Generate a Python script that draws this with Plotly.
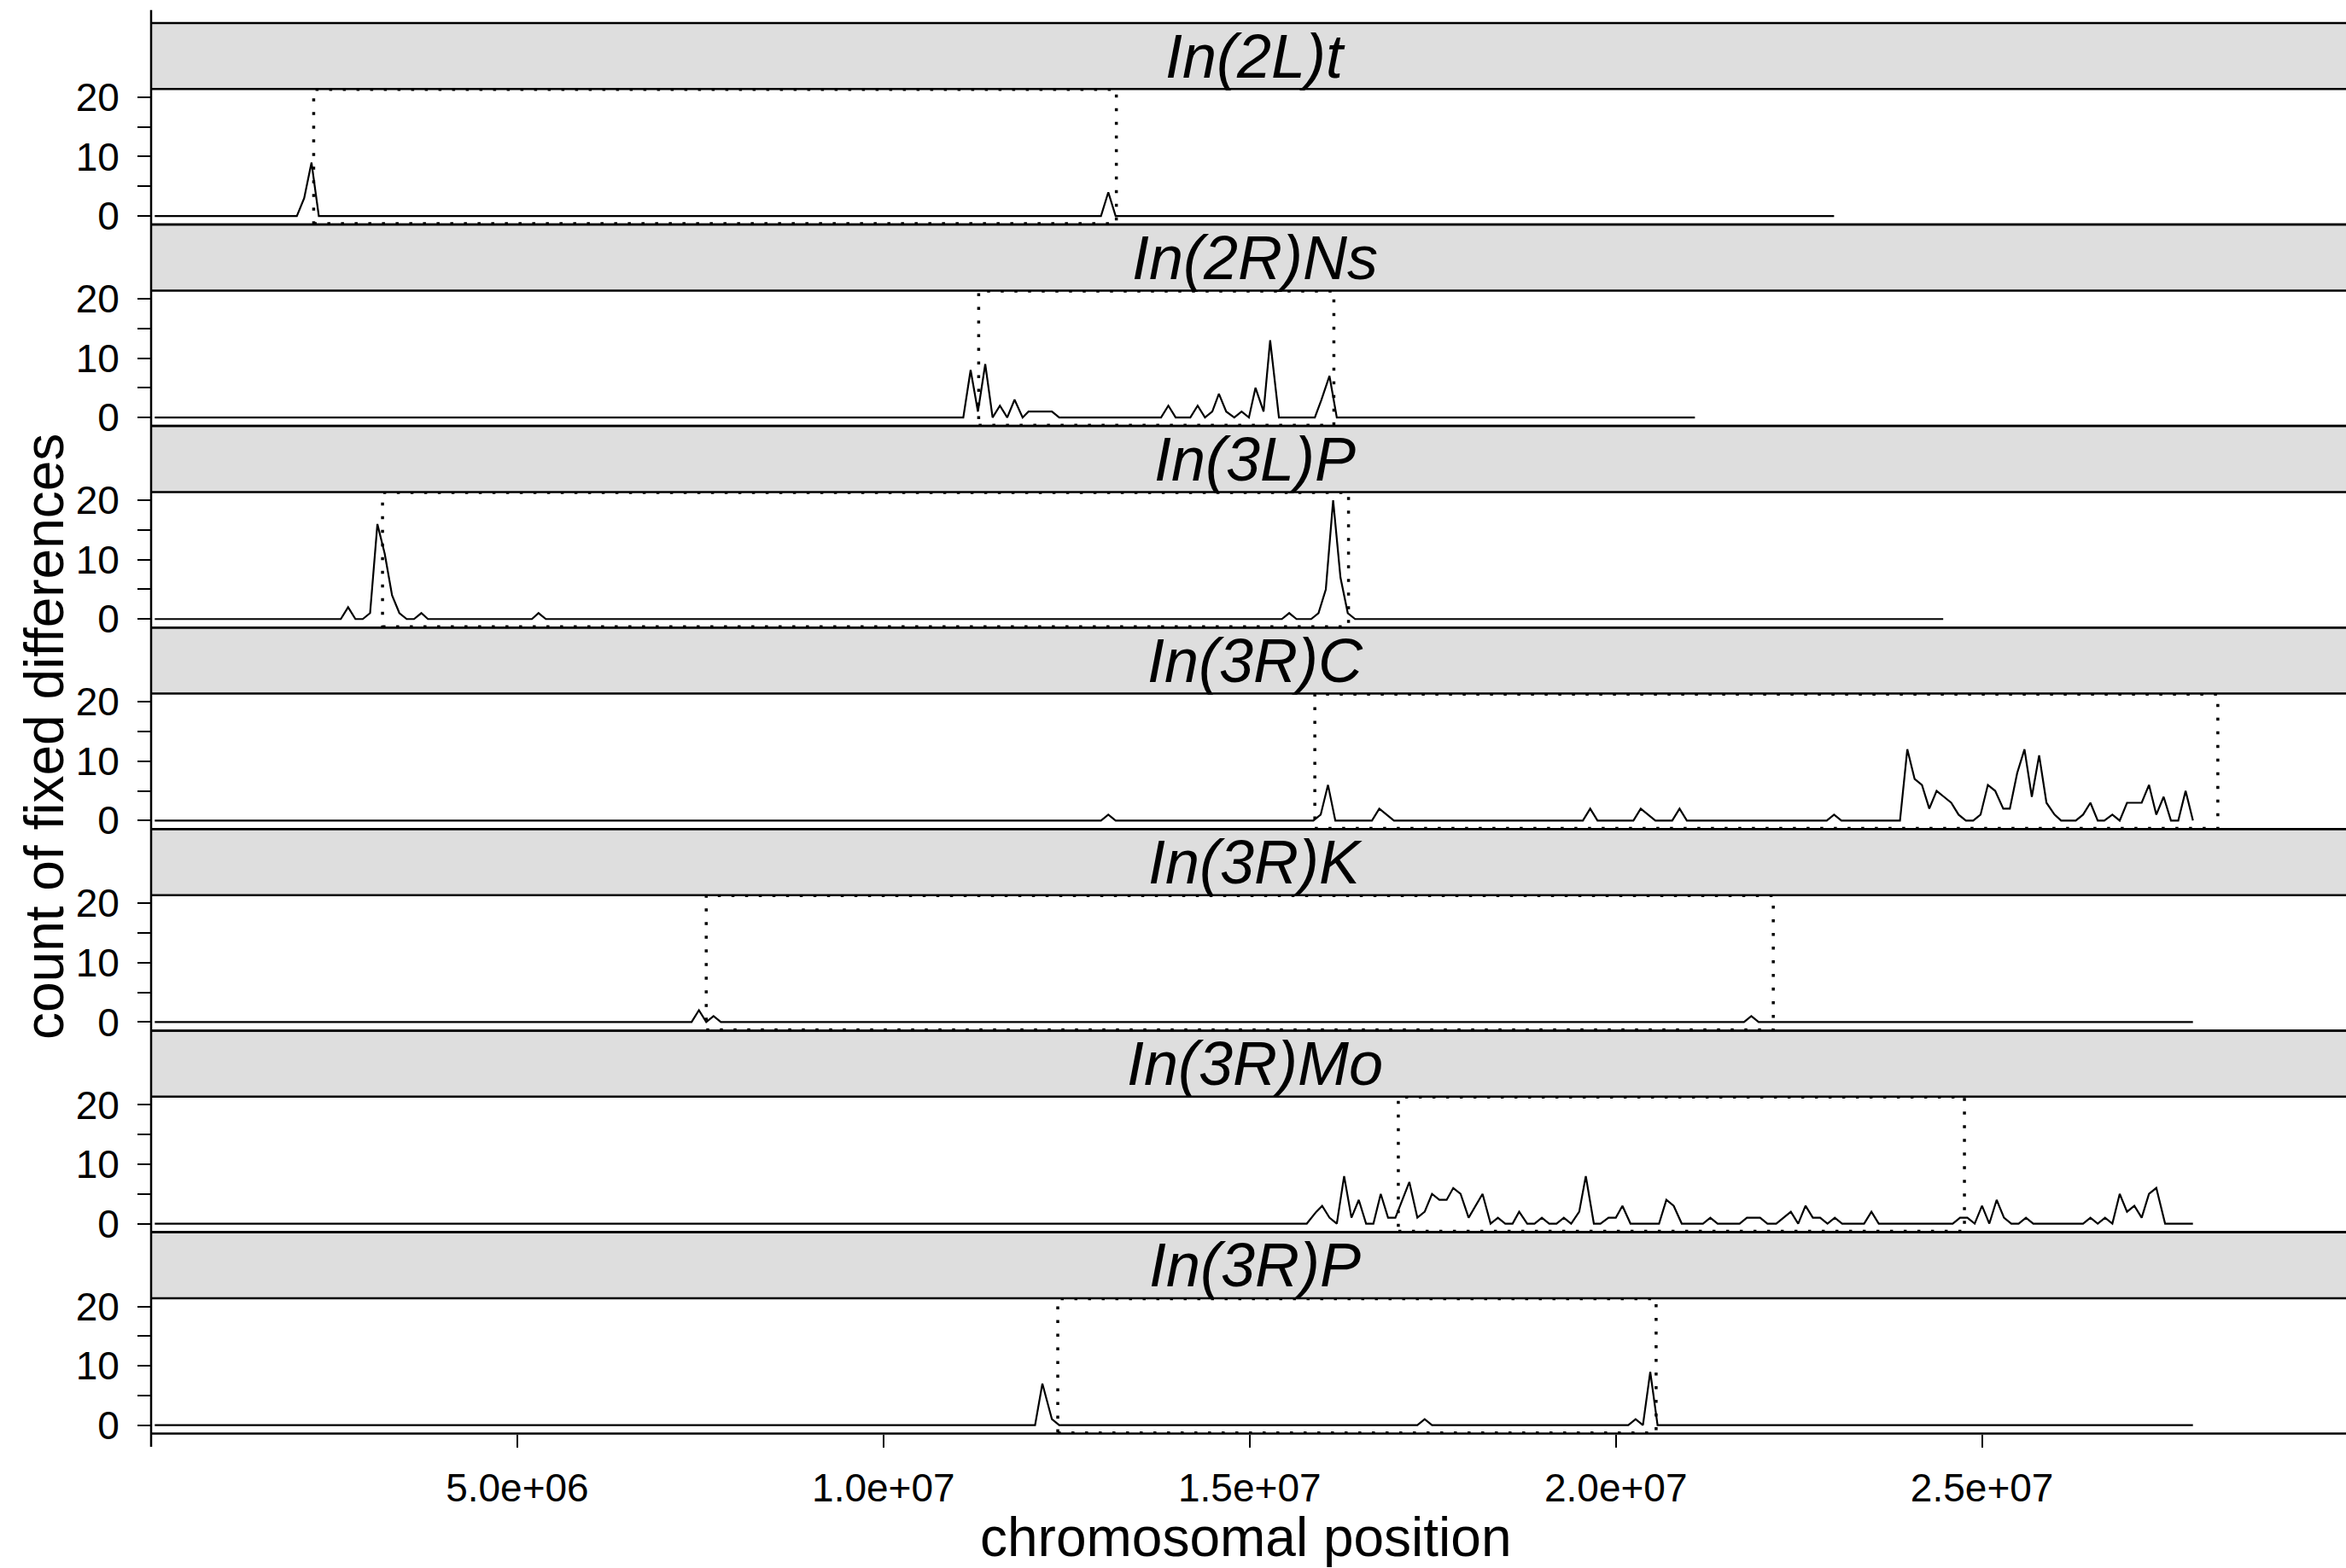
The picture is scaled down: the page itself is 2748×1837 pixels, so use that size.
import plotly.graph_objects as go

W, H = 2748, 1837

# ---------------- data (positions in Mb, counts of fixed differences) ----------------
inversions = ["In(2L)t", "In(2R)Ns", "In(3L)P", "In(3R)C", "In(3R)K", "In(3R)Mo", "In(3R)P"]

pos_2Lt = [0.05, 1.99, 2.09, 2.19, 2.29, 12.97, 13.07, 13.17, 22.98]
cnt_2Lt = [0, 0, 3, 9, 0, 0, 4, 0, 0]

pos_2RNs = [0.05, 11.09, 11.19, 11.29, 11.39, 11.49, 11.59, 11.69, 11.79, 11.90, 11.98, 12.30, 12.40,
            13.79, 13.89, 13.99, 14.19, 14.29, 14.39, 14.49, 14.58, 14.68, 14.79, 14.89, 14.99,
            15.08, 15.19, 15.28, 15.40, 15.89, 15.98, 16.09, 16.19, 21.08]
cnt_2RNs = [0, 0, 8, 1, 9, 0, 2, 0, 3, 0, 1, 1, 0,
            0, 2, 0, 0, 2, 0, 1, 4, 1, 0, 1, 0,
            5, 1, 13, 0, 0, 3, 7, 0, 0]

pos_3LP = [0.05, 2.59, 2.69, 2.79, 2.89, 2.99, 3.09, 3.19, 3.29, 3.39, 3.49, 3.59, 3.69, 3.78,
           5.20, 5.29, 5.39, 15.44, 15.54, 15.64, 15.84, 15.94, 16.04, 16.14, 16.24, 16.34, 16.44, 24.47]
cnt_3LP = [0, 0, 2, 0, 0, 1, 16, 11, 4, 1, 0, 0, 1, 0,
           0, 1, 0, 0, 1, 0, 0, 1, 5, 20, 7, 1, 0, 0]

pos_3RC = [0.05, 12.97, 13.07, 13.17, 15.87, 15.97, 16.07, 16.17, 16.67, 16.77, 16.87, 16.97,
           19.55, 19.65, 19.75, 20.24, 20.34, 20.44, 20.54, 20.77, 20.87, 20.97,
           22.88, 22.98, 23.08, 23.88, 23.98, 24.08, 24.18, 24.28, 24.38, 24.48, 24.58, 24.68, 24.78,
           24.88, 24.98, 25.08, 25.18, 25.29, 25.38, 25.48, 25.58, 25.68, 25.78, 25.88, 25.99, 26.08,
           26.28, 26.38, 26.48, 26.58, 26.67, 26.78, 26.88, 26.98, 27.18, 27.28, 27.38, 27.48, 27.58,
           27.68, 27.78, 27.88]
cnt_3RC = [0, 0, 1, 0, 0, 1, 6, 0, 0, 2, 1, 0,
           0, 2, 0, 0, 2, 1, 0, 0, 2, 0,
           0, 1, 0, 0, 12, 7, 6, 2, 5, 4, 3, 1, 0,
           0, 1, 6, 5, 2, 2, 8, 12, 4, 11, 3, 1, 0,
           0, 1, 3, 0, 0, 1, 0, 3, 3, 6, 1, 4, 0,
           0, 5, 0]

pos_3RK = [0.05, 7.38, 7.48, 7.58, 7.68, 7.78, 21.75, 21.85, 21.95, 27.88]
cnt_3RK = [0, 0, 2, 0, 1, 0, 0, 1, 0, 0]

pos_3RMo = [0.05, 15.78, 15.91, 15.99, 16.09, 16.19, 16.29, 16.39, 16.49, 16.59, 16.69, 16.79, 16.89,
            16.99, 17.18, 17.29, 17.39, 17.49, 17.59, 17.69, 17.78, 17.88, 17.99, 18.18, 18.29,
            18.39, 18.49, 18.59, 18.68, 18.79, 18.89, 18.99, 19.09, 19.19, 19.29, 19.39, 19.50,
            19.59, 19.70, 19.79, 19.90, 20.00, 20.09, 20.20, 20.59, 20.69, 20.79, 20.90, 21.19,
            21.29, 21.39, 21.69, 21.79, 21.97, 22.07, 22.19, 22.29, 22.39, 22.49, 22.59, 22.69,
            22.79, 22.89, 22.99, 23.09, 23.39, 23.49, 23.59, 24.60, 24.70, 24.80, 24.90, 25.00,
            25.10, 25.20, 25.30, 25.40, 25.50, 25.60, 25.70, 26.38, 26.48, 26.58, 26.68, 26.78,
            26.88, 26.98, 27.08, 27.18, 27.28, 27.38, 27.50, 27.88]
cnt_3RMo = [0, 0, 2, 3, 1, 0, 8, 1, 4, 0, 0, 5, 1,
            1, 7, 1, 2, 5, 4, 4, 6, 5, 1, 5, 0,
            1, 0, 0, 2, 0, 0, 1, 0, 0, 1, 0, 2,
            8, 0, 0, 1, 1, 3, 0, 0, 4, 3, 0, 0,
            1, 0, 0, 1, 1, 0, 0, 1, 2, 0, 3, 1,
            1, 0, 1, 0, 0, 2, 0, 0, 1, 1, 0, 3,
            0, 4, 1, 0, 0, 1, 0, 0, 1, 0, 1, 0,
            5, 2, 3, 1, 5, 6, 0, 0]

pos_3RP = [0.05, 12.07, 12.17, 12.30, 12.40, 17.29, 17.39, 17.49, 20.17, 20.27, 20.37, 20.47, 20.57, 27.88]
cnt_3RP = [0, 0, 7, 1, 0, 0, 1, 0, 0, 1, 0, 9, 0, 0]

# inversion breakpoints (Mb)
bp_start = [2.22, 11.30, 3.16, 15.89, 7.58, 17.03, 12.38]
bp_end = [13.18, 16.15, 16.35, 28.22, 22.15, 24.76, 20.55]

positions = [pos_2Lt, pos_2RNs, pos_3LP, pos_3RC, pos_3RK, pos_3RMo, pos_3RP]
counts = [cnt_2Lt, cnt_2RNs, cnt_3LP, cnt_3RC, cnt_3RK, cnt_3RMo, cnt_3RP]

x_tick_vals = [5, 10, 15, 20, 25]
x_tick_text = ["5.0e+06", "1.0e+07", "1.5e+07", "2.0e+07", "2.5e+07"]
y_tick_vals = [0, 5, 10, 15, 20]
y_tick_text = ["0", "", "10", "", "20"]

# ---------------- layout geometry (pixels) ----------------
FONT = "Liberation Sans"
LEFT = 177
PANEL_TOP0 = 104.3
PITCH = 236.1
PANEL_H = 158.7
STRIP_H = 77.4
XRANGE = [0, 29.97]
YRANGE = [-1.43, 21.38]
BORDER_W = 2.5


def fx(p):
    return p / W


def fy(p):
    return 1 - p / H


fig = go.Figure()
layout = dict(
    width=W, height=H,
    margin=dict(l=0, r=0, t=0, b=0, pad=0, autoexpand=False),
    paper_bgcolor="white", plot_bgcolor="white",
    showlegend=False,
    font=dict(family=FONT, color="black"),
)
shapes = []
annotations = []

for i, name in enumerate(inversions):
    k = i + 1
    sfx = "" if k == 1 else str(k)
    top = PANEL_TOP0 + i * PITCH
    bot = top + PANEL_H
    fig.add_trace(go.Scatter(
        x=positions[i], y=counts[i], mode="lines",
        line=dict(color="black", width=2.2),
        xaxis="x" + sfx, yaxis="y" + sfx, hoverinfo="skip",
    ))
    last = (i == len(inversions) - 1)
    layout["xaxis" + sfx] = dict(
        domain=[fx(LEFT), 1], range=XRANGE, anchor="y" + sfx, automargin=False,
        showgrid=False, zeroline=False, showline=False,
        ticks="outside" if last else "", ticklen=15, tickwidth=1.5, tickcolor="black",
        tickvals=x_tick_vals, ticktext=x_tick_text,
        showticklabels=last, tickfont=dict(family=FONT, size=46, color="black"),
        ticklabelstandoff=8,
        **({} if k == 1 else {"matches": "x"}),
    )
    layout["yaxis" + sfx] = dict(
        domain=[fy(bot), fy(top)], range=YRANGE, anchor="x" + sfx, automargin=False,
        showgrid=False, zeroline=False, showline=False,
        ticks="outside", ticklen=15, tickwidth=2, tickcolor="black",
        tickvals=y_tick_vals, ticktext=y_tick_text,
        tickfont=dict(family=FONT, size=46, color="black"),
        ticklabelstandoff=12,
    )
    # strip
    s_top = top - STRIP_H
    shapes.append(dict(type="rect", xref="paper", yref="paper",
                       x0=fx(LEFT), x1=1.0, y0=fy(top), y1=fy(s_top),
                       fillcolor="#DEDEDE", line=dict(width=0), layer="below"))
    annotations.append(dict(xref="paper", yref="paper", x=fx(1470), y=fy(s_top + STRIP_H / 2),
                            text=name, showarrow=False, xanchor="center", yanchor="middle",
                            font=dict(family=FONT, size=72, style="italic", color="black")))
    # horizontal borders
    for yy in (s_top, top, bot):
        shapes.append(dict(type="line", xref="paper", yref="paper",
                           x0=fx(LEFT), x1=1.0, y0=fy(yy), y1=fy(yy),
                           line=dict(color="black", width=BORDER_W)))
    # inversion region (dotted rectangle)
    shapes.append(dict(type="rect", xref="x" + sfx, yref="y" + sfx,
                       x0=bp_start[i], x1=bp_end[i], y0=-1.3, y1=21.3,
                       line=dict(color="black", width=3.5, dash="3.5px,12.5px")))

# left axis line
shapes.append(dict(type="line", xref="paper", yref="paper",
                   x0=fx(LEFT), x1=fx(LEFT), y0=fy(11.7), y1=fy(1695),
                   line=dict(color="black", width=BORDER_W)))

annotations.append(dict(xref="paper", yref="paper", x=fx(1459), y=fy(1800.5),
                        text="chromosomal position", showarrow=False,
                        xanchor="center", yanchor="middle", borderpad=0,
                        font=dict(family=FONT, size=64, color="black")))
annotations.append(dict(xref="paper", yref="paper", x=fx(52), y=fy(863),
                        text="count of fixed differences", showarrow=False, textangle=-90,
                        xanchor="center", yanchor="middle",
                        font=dict(family=FONT, size=64, color="black")))

layout["shapes"] = shapes
layout["annotations"] = annotations
fig.update_layout(**layout)
fig.write_html("out.html", config={"displayModeBar": False},
               post_script="document.body.style.margin='0';document.body.style.overflow='hidden';")
